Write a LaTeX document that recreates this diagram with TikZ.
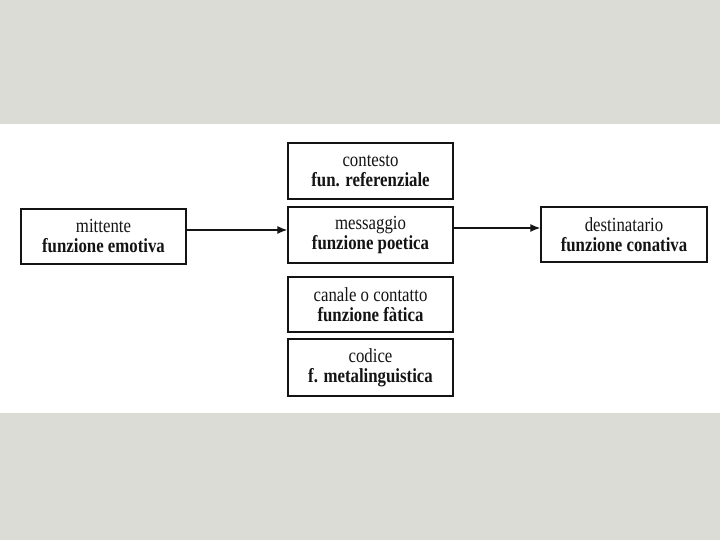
\documentclass[tikz,border=0pt]{standalone}
\usepackage{fontspec}
\setmainfont[FakeStretch=0.84]{Liberation Serif}
\usetikzlibrary{arrows.meta}
\definecolor{bggray}{RGB}{220,220,215}
\definecolor{ink}{RGB}{20,20,20}
\tikzset{
  box/.style={draw=ink, line width=1.2pt, fill=white, minimum width=165pt, minimum height=55pt,
    inner sep=0pt, align=center, text=ink, font=\fontsize{20}{20}\selectfont},
  arr/.style={draw=ink, line width=1.6pt, -{Latex[length=10pt,width=8pt]}}
}
\begin{document}
\begin{tikzpicture}[x=1pt,y=1pt]
\fill[bggray] (0,0) rectangle (720,540);
\fill[white] (0,540-124) rectangle (720,540-413);
\useasboundingbox (0,0) rectangle (720,540);
\node[box] (mit) at (103.5,540-236.5) {mittente\\\textbf{funzione emotiva}};
\node[box, minimum height=56pt] (ctx) at (370.5,540-171) {contesto\\\textbf{fun. referenziale}};
\node[box, minimum height=56pt] (msg) at (370.5,540-235) {messaggio\\\textbf{funzione poetica}};
\node[box] (can) at (370.5,540-304.5) {canale o contatto\\\textbf{funzione fàtica}};
\node[box, minimum height=57pt] (cod) at (370.5,540-367.5) {codice\\\textbf{f. metalinguistica}};
\node[box, minimum width=166pt] (dst) at (624,540-234.5) {destinatario\\\textbf{funzione conativa}};
\draw[arr] ([yshift=6.5pt]mit.east) -- ([yshift=6.5pt]mit.east -| msg.west);
\draw[arr] ([yshift=7pt]msg.east) -- ([yshift=7pt]msg.east -| dst.west);
\end{tikzpicture}
\end{document}
